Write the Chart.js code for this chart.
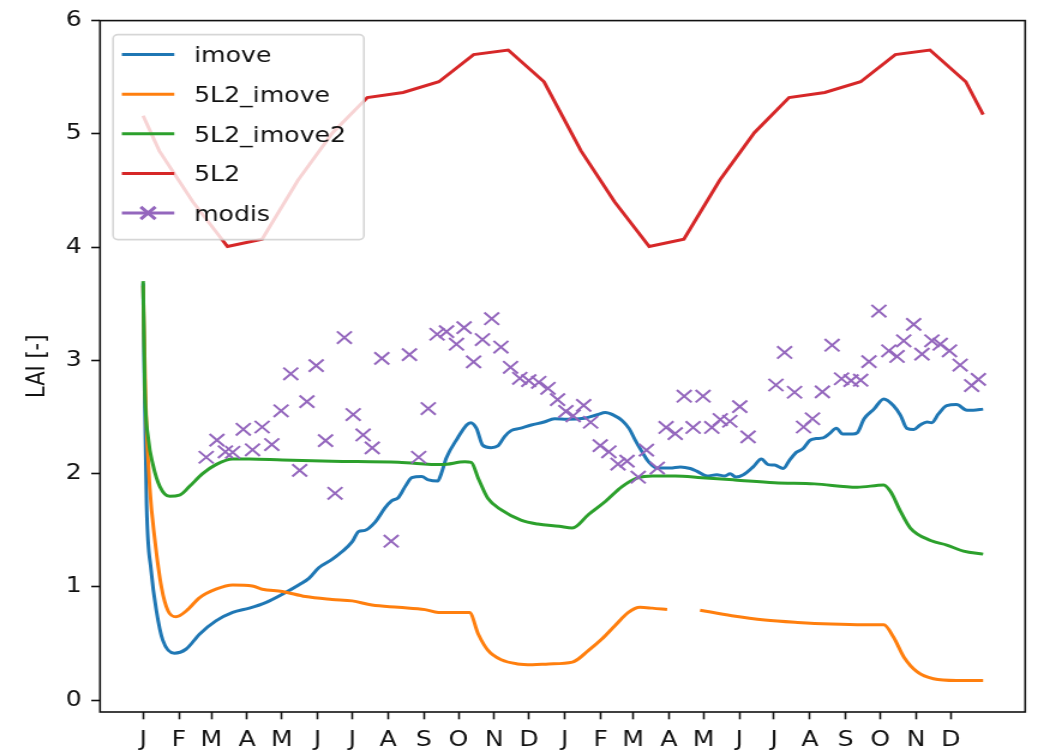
<!DOCTYPE html>
<html>
<head>
<meta charset="utf-8">
<script src="https://cdn.jsdelivr.net/npm/chart.js@4/dist/chart.umd.min.js"></script>
<style>
  html, body { margin: 0; padding: 0; background: #fff; overflow: hidden; }
  #wrap { width: 865px; height: 754px; transform: scaleX(1.2); transform-origin: 0 0; }
  canvas { display: block; }
</style>
</head>
<body>
<div id="wrap"><canvas id="lai" width="865" height="754"></canvas></div>
<script>
// Day of the two-year run (day 0 = 1 January) and LAI value, one pair per reading.
const monthTickDays = [0, 31, 59, 90, 120, 151, 181, 212, 243, 273, 304, 334,
                       365, 396, 424, 455, 485, 516, 546, 577, 608, 638, 669, 699];
const monthLetters = ['J','F','M','A','M','J','J','A','S','O','N','D',
                      'J','F','M','A','M','J','J','A','S','O','N','D'];
const laiTicks = [0, 1, 2, 3, 4, 5, 6];

const imove = [
  [0,3.68],[1,2.9],[3,1.72],[7,1.14],[11.5,0.79],[17,0.53],[27,0.415],[37,0.45],[49,0.585],
  [63,0.70],[77.5,0.775],[92,0.813],[106,0.862],[120.5,0.936],[135,1.02],[143.5,1.076],
  [152,1.17],[163.5,1.243],[172,1.31],[181,1.40],[186.5,1.49],[192,1.50],[201,1.575],
  [209.5,1.70],[215,1.76],[221,1.79],[227,1.89],[232.5,1.965],[241,1.975],[247,1.945],
  [255,1.935],[258,2.0],[262.5,2.14],[272.5,2.32],[280,2.43],[283.5,2.45],[288.5,2.40],
  [294,2.25],[301,2.23],[307,2.245],[313,2.33],[318.5,2.38],[326,2.40],[336,2.43],
  [347,2.456],[356,2.485],[367,2.48],[382,2.49],[393,2.52],[400,2.54],[407.5,2.515],
  [414.5,2.47],[420.5,2.40],[426,2.295],[432,2.19],[437.5,2.105],[445,2.05],[456,2.05],
  [465,2.06],[473.5,2.046],[479.5,2.02],[488,1.98],[496.5,1.99],[503.5,1.98],[508,2.0],
  [513,1.97],[519.5,1.99],[528,2.06],[535,2.13],[541,2.08],[546.5,2.076],[554,2.046],
  [559.5,2.12],[565.5,2.19],[571,2.22],[577,2.295],[582.5,2.31],[588.5,2.316],[594,2.354],
  [600,2.40],[605.5,2.35],[614,2.35],[618,2.36],[624,2.485],[632.5,2.57],[641,2.66],
  [649.5,2.60],[655.5,2.515],[661,2.40],[667,2.39],[672.5,2.43],[678.5,2.456],[682.5,2.45],
  [688.5,2.53],[695.5,2.60],[704,2.61],[713,2.56],[718.5,2.56],[727,2.57]
];

const imove5L2 = [
  [0,3.66],[2.3,2.6],[5.8,1.87],[10,1.43],[16,0.99],[21.5,0.79],[28.5,0.737],[37.5,0.79],
  [49,0.906],[63,0.98],[77.5,1.018],[94.5,1.009],[103,0.98],[120.5,0.96],[140.5,0.915],
  [163.5,0.89],[181,0.877],[198,0.84],[221,0.82],[244,0.80],[255.5,0.775],[282.5,0.775],
  [290,0.585],[298.5,0.44],[310,0.357],[324,0.32],[337,0.313],[351,0.32],[371.5,0.336],
  [385.5,0.44],[397,0.54],[408.5,0.66],[420,0.775],[430,0.82],[440.5,0.813],[453.5,0.80],
  [468,null],
  [482,0.795],[509.5,0.746],[538,0.708],[566.5,0.687],[595.5,0.673],[624,0.667],[641,0.667],
  [649.5,0.556],[658.5,0.38],[670,0.25],[684,0.19],[704,0.175],[727,0.175]
];

const imove2_5L2 = [
  [0,3.70],[1.5,2.75],[4.5,2.31],[8.5,2.08],[14.5,1.886],[23,1.80],[31.5,1.81],[40,1.886],
  [51.5,2.0],[63,2.08],[77.5,2.13],[92,2.13],[120.5,2.12],[163.5,2.11],[221,2.10],
  [258.5,2.08],[278.5,2.105],[284,2.10],[290,1.96],[298.5,1.78],[310,1.68],[327,1.59],
  [341.5,1.555],[360,1.535],[371.5,1.52],[385.5,1.64],[400,1.754],[414.5,1.886],
  [428.5,1.965],[440.5,1.98],[460.5,1.98],[483.5,1.965],[512,1.945],[546.5,1.92],
  [581,1.91],[618,1.88],[641,1.90],[647,1.84],[655.5,1.667],[664,1.52],[681.5,1.41],
  [695.5,1.37],[710,1.316],[727,1.29]
];

const lai5L2 = [
  [0,5.16],[14,4.85],[43,4.40],[73,4.005],[103,4.07],[134,4.59],[164,5.01],[194,5.32],
  [225,5.365],[256,5.46],[286,5.70],[316,5.74],[347,5.46],[379,4.85],[408,4.40],[438,4.005],
  [468,4.07],[499,4.59],[529,5.01],[559,5.32],[590,5.365],[621,5.46],[651,5.70],[681,5.74],
  [712,5.46],[727,5.17]
];

const modis = [
  [54.6,2.145],[63.9,2.296],[71.2,2.193],[77.5,2.189],[86.7,2.392],[94.7,2.211],[103,2.412],
  [111.4,2.257],[119.4,2.555],[127.8,2.882],[135.5,2.029],[141.8,2.636],[149.8,2.954],
  [157.9,2.292],[166.1,1.827],[174.2,3.202],[181.8,2.522],[190.4,2.342],[198.3,2.228],
  [206.6,3.018],[214.7,1.404],[230.5,3.051],[238.5,2.145],[246.8,2.575],[254.4,3.231],
  [262.6,3.254],[271.2,3.143],[277.8,3.289],[286,2.987],[293.7,3.184],[301.7,3.368],
  [309.7,3.118],[318,2.939],[326,2.842],[333.8,2.822],[342.4,2.807],[350.4,2.754],
  [358.7,2.654],[365.9,2.55],[372.2,2.511],[381.3,2.603],[387.3,2.454],[395.6,2.248],
  [403.1,2.193],[411,2.085],[418.8,2.111],[428.5,1.969],[435.6,2.208],[445,2.05],
  [452.6,2.408],[460.5,2.354],[468.3,2.684],[476,2.408],[484.6,2.684],[492.2,2.408],
  [499.5,2.478],[507.8,2.463],[516.4,2.592],[523.6,2.325],[547.7,2.783],[555.2,3.07],
  [563.8,2.719],[571.6,2.412],[579.3,2.485],[587.9,2.722],[596.3,3.134],[604.5,2.838],
  [612.7,2.822],[621,2.825],[628.2,2.989],[636.8,3.436],[645.4,3.085],[652.5,3.035],
  [658.3,3.173],[666.9,3.318],[674.1,3.055],[682.7,3.173],[689.9,3.143],[697.9,3.085],
  [707.1,2.959],[717.1,2.778],[722.9,2.833]
];

const toPoints = pairs => pairs.map(([x, y]) => ({ x, y }));
const FONT = { family: 'DejaVu Sans', size: 21 };
const TEXT = '#111';

// Axes frame on all four sides
const frame = {
  id: 'frame',
  afterDatasetsDraw(chart) {
    const { ctx, chartArea: a } = chart;
    ctx.save();
    ctx.strokeStyle = '#111';
    ctx.lineWidth = 1.6;
    ctx.strokeRect(a.left, a.top, a.right - a.left, a.bottom - a.top);
    ctx.restore();
  }
};

// Legend box in the upper-left corner of the plot area
const insideLegend = {
  id: 'insideLegend',
  afterDraw(chart) {
    const { ctx, chartArea: a } = chart;
    const x0 = a.left + 10.9, y0 = a.top + 14, w = 209, h = 205, r = 4;
    ctx.save();
    ctx.beginPath();
    ctx.moveTo(x0 + r, y0);
    ctx.arcTo(x0 + w, y0, x0 + w, y0 + h, r);
    ctx.arcTo(x0 + w, y0 + h, x0, y0 + h, r);
    ctx.arcTo(x0, y0 + h, x0, y0, r);
    ctx.arcTo(x0, y0, x0 + w, y0, r);
    ctx.closePath();
    ctx.fillStyle = 'rgba(255,255,255,0.8)';
    ctx.fill();
    ctx.strokeStyle = 'rgba(204,204,204,0.8)';
    ctx.lineWidth = 1.6;
    ctx.stroke();

    ctx.font = `${FONT.size}px "${FONT.family}"`;
    ctx.textBaseline = 'alphabetic';
    ctx.textAlign = 'left';
    chart.data.datasets.forEach((ds, i) => {
      const cy = y0 + 20 + i * 39.6;
      const hx0 = x0 + 7.3, hx1 = x0 + 51;
      ctx.strokeStyle = ds.borderColor;
      ctx.lineWidth = 3;
      ctx.beginPath();
      ctx.moveTo(hx0, cy);
      ctx.lineTo(hx1, cy);
      ctx.stroke();
      if (ds.pointStyle === 'crossRot') {
        Chart.helpers.drawPoint(ctx, {
          pointStyle: 'crossRot', radius: ds.pointRadius, borderWidth: ds.pointBorderWidth
        }, (hx0 + hx1) / 2, cy);
      }
      ctx.fillStyle = TEXT;
      ctx.fillText(ds.label, x0 + 67.4, cy + 7.7);
    });
    ctx.restore();
  }
};

const tickGrid = {
  display: true, drawOnChartArea: false, drawTicks: true,
  tickLength: 7.3, tickWidth: 1.6, tickColor: '#111'
};

new Chart(document.getElementById('lai'), {
  type: 'line',
  data: {
    datasets: [
      { label: 'imove', data: toPoints(imove), borderColor: '#1f77b4', borderWidth: 3,
        pointRadius: 0, cubicInterpolationMode: 'monotone', order: 5 },
      { label: '5L2_imove', data: toPoints(imove5L2), borderColor: '#ff7f0e', borderWidth: 3,
        pointRadius: 0, cubicInterpolationMode: 'monotone', order: 4 },
      { label: '5L2_imove2', data: toPoints(imove2_5L2), borderColor: '#2ca02c', borderWidth: 3,
        pointRadius: 0, cubicInterpolationMode: 'monotone', order: 3 },
      { label: '5L2', data: toPoints(lai5L2), borderColor: '#d62728', borderWidth: 3,
        pointRadius: 0, tension: 0, order: 2 },
      { label: 'modis', data: toPoints(modis), borderColor: '#9467bd', showLine: false,
        pointStyle: 'crossRot', pointRadius: 8.7, pointBorderWidth: 2,
        pointBorderColor: '#9467bd', pointBackgroundColor: '#9467bd', order: 1 }
    ]
  },
  options: {
    responsive: false,
    animation: false,
    devicePixelRatio: 1,
    spanGaps: false,
    events: [],
    layout: { padding: { left: 0, top: 16, right: 6.67, bottom: 0 } },
    plugins: { legend: { display: false }, tooltip: { enabled: false } },
    scales: {
      x: {
        type: 'linear', min: -37.3, max: 763.4,
        afterBuildTicks: s => { s.ticks = monthTickDays.map(v => ({ value: v })); },
        afterFit: s => { s.height = 42; },
        ticks: {
          autoSkip: false, maxRotation: 0, minRotation: 0, padding: 9,
          font: FONT, color: TEXT,
          callback: (v, i) => monthLetters[i]
        },
        grid: tickGrid,
        border: { display: false }
      },
      y: {
        type: 'linear', min: -0.104, max: 6,
        afterBuildTicks: s => { s.ticks = laiTicks.map(v => ({ value: v })); },
        afterFit: s => { s.width = 83.33; },
        ticks: { padding: 8, font: FONT, color: TEXT, callback: v => String(v) },
        grid: tickGrid,
        border: { display: false },
        title: { display: true, text: 'LAI [-]', font: FONT, color: TEXT,
                 padding: { top: 18.5, bottom: 0 } }
      }
    }
  },
  plugins: [frame, insideLegend]
});
</script>
</body>
</html>
